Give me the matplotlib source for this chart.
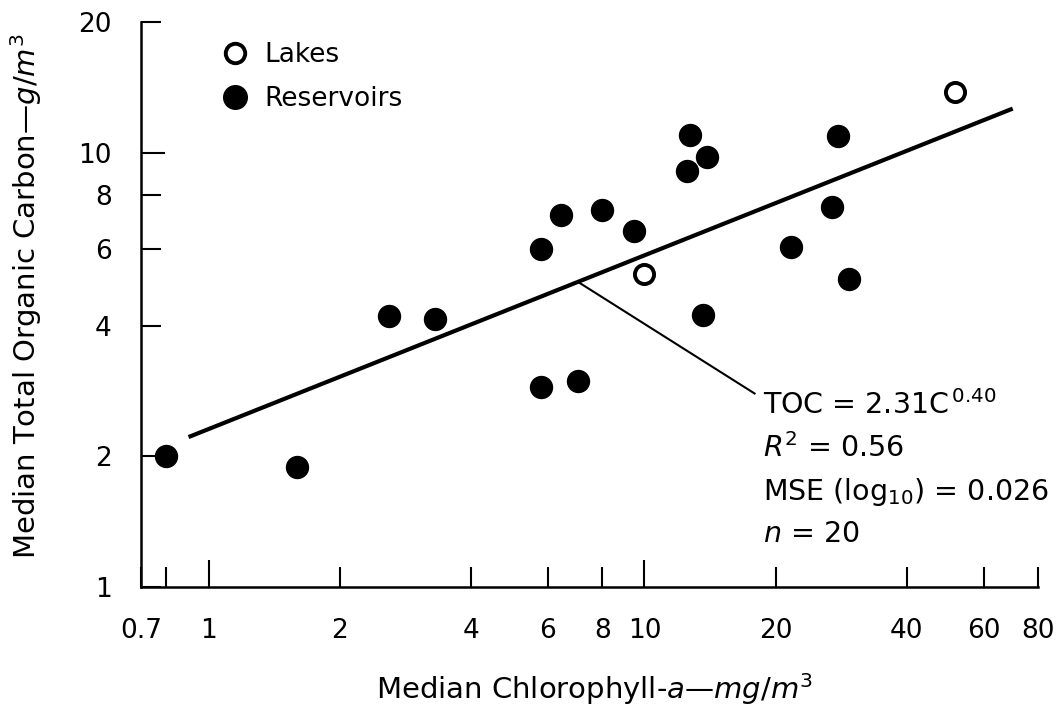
import matplotlib
matplotlib.use("Agg")
import matplotlib.pyplot as plt
import numpy as np
from matplotlib.lines import Line2D

plt.rcParams['font.family'] = ['DejaVu Sans']
plt.rcParams['mathtext.fontset'] = 'dejavusans'

# Data (median chlorophyll-a mg/m3, median TOC g/m3)
res_chl = [0.8, 1.6, 2.6, 3.3, 5.8, 5.8, 7.05, 6.45, 8.0, 9.45, 12.5, 12.7, 13.9, 13.6, 21.7, 27.0, 27.8, 29.4]
res_toc = [2.0, 1.89, 4.2, 4.15, 2.88, 6.0, 2.98, 7.17, 7.38, 6.62, 9.06, 10.98, 9.76, 4.24, 6.08, 7.48, 10.9, 5.11]
lake_chl = [10.0, 51.5]
lake_toc = [5.26, 13.8]

# Regression TOC = 2.31 C^0.40
fit_a = 2.31
fit_b = 0.40
fit_range = [0.9, 70]

x_ticks = [0.7, 1, 2, 4, 6, 8, 10, 20, 40, 60, 80]
x_labels = ['0.7', '1', '2', '4', '6', '8', '10', '20', '40', '60', '80']
x_minor = [0.8]
y_ticks = [1, 2, 4, 6, 8, 10, 20]
y_labels = ['1', '2', '4', '6', '8', '10', '20']

W, H = 1061, 708
fig = plt.figure(figsize=(W/100, H/100), dpi=100)
ax = fig.add_axes([141/W, 1-587/H, (1038-141)/W, (587-22)/H])
ax.set_xscale('log')
ax.set_yscale('log')
ax.set_xlim(0.7, 80)
ax.set_ylim(1, 20)

for s in ['top', 'right']:
    ax.spines[s].set_visible(False)
for s in ['left', 'bottom']:
    ax.spines[s].set_linewidth(1.8)

ax.minorticks_off()
ax.set_xticks(x_ticks)
ax.set_xticklabels(x_labels)
ax.set_xticks(x_minor, minor=True)
ax.set_yticks(y_ticks)
ax.set_yticklabels(y_labels)
ax.tick_params(axis='both', which='both', direction='in', length=14.4, width=1.5, labelsize=19, color='black')
ax.tick_params(axis='x', which='major', pad=22)
ax.tick_params(axis='y', which='major', pad=21)
ax.tick_params(axis='x', which='minor', labelbottom=False)
# longer ticks at the decades
for i, v in enumerate(x_ticks):
    if v in (1, 10):
        ax.xaxis.get_major_ticks()[i].tick1line.set_markersize(19.5)
for i, v in enumerate(y_ticks):
    if v == 10:
        ax.yaxis.get_major_ticks()[i].tick1line.set_markersize(17.5)

# regression line
xf = np.array(fit_range)
ax.plot(xf, fit_a * xf ** fit_b, color='black', lw=3.0, solid_capstyle='butt', zorder=2)

# points
ax.scatter(res_chl, res_toc, s=250, color='black', zorder=3, clip_on=False)
ax.scatter(lake_chl, lake_toc, s=190, facecolor='white', edgecolor='black', linewidths=2.8, zorder=3)

# leader line
lead_x = [7.04, 17.9]
ax.plot(lead_x, [fit_a * lead_x[0] ** fit_b, 2.79], color='black', lw=1.5, zorder=2)

# annotation text
tx = 763/W
fs = 20.5
fig.text(tx, 1-414/H, 'TOC = 2.31C$^{\\,0.40}$', fontsize=fs, va='baseline', ha='left')
fig.text(tx, 1-457/H, '$R^2$ = 0.56', fontsize=fs, va='baseline', ha='left')
fig.text(tx, 1-500/H, 'MSE (log$_{10}$) = 0.026', fontsize=fs, va='baseline', ha='left')
fig.text(tx, 1-542/H, '$n$ = 20', fontsize=fs, va='baseline', ha='left')

# legend
handles = [Line2D([], [], marker='o', ls='none', markersize=14, markerfacecolor='white',
                  markeredgecolor='black', markeredgewidth=2.8, label='Lakes'),
           Line2D([], [], marker='o', ls='none', markersize=17, color='black', label='Reservoirs')]
ax.legend(handles=handles, loc='upper left', bbox_to_anchor=(209/W, 1-29/H),
          bbox_transform=fig.transFigure, frameon=False, fontsize=19,
          handletextpad=0.6, labelspacing=0.68, borderpad=0, handlelength=1.0)

# axis titles
fig.text(594.5/W, 1-699/H, 'Median Chlorophyll-$a$—$mg/m^3$', fontsize=21,
         ha='center', va='baseline')
fig.text(36/W, 1-296.5/H, 'Median Total Organic Carbon—$g/m^3$', fontsize=21,
         ha='center', va='baseline', rotation=90, rotation_mode='anchor')

fig.savefig('out.png', dpi=100)
